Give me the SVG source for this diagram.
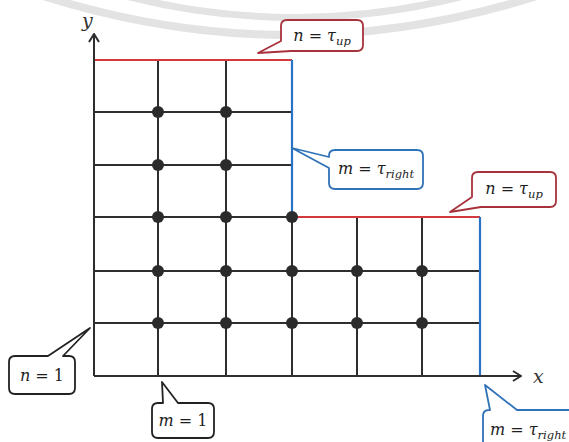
<svg xmlns="http://www.w3.org/2000/svg" width="569" height="442" viewBox="0 0 569 442">
<style>
.wm{fill:none;stroke:#e3e3e3;stroke-linecap:round}
.g{stroke:#2e2e2e;stroke-width:2;fill:none}
.red{stroke:#d23a3f;stroke-width:2.2;fill:none}
.blue{stroke:#2a73c4;stroke-width:2.2;fill:none}
.dot{fill:#2b2b2b}
.cr{fill:#fff;stroke:#a8323c;stroke-width:1.8;stroke-linejoin:round}
.cb{fill:#fff;stroke:#2f72b8;stroke-width:1.8;stroke-linejoin:round}
.ck{fill:#fff;stroke:#222;stroke-width:1.8;stroke-linejoin:round}
.t{font-family:"DejaVu Serif","Liberation Serif",serif;font-style:italic;font-size:16px;fill:#1e1e1e}
.u{font-style:normal}
.s{font-size:11.5px}
.ax{font-family:"DejaVu Serif","Liberation Serif",serif;font-style:italic;font-size:19px;fill:#333}
</style>
<defs>
<marker id="arr" viewBox="0 0 10 12" refX="9" refY="6" markerWidth="10" markerHeight="12" markerUnits="userSpaceOnUse" orient="auto">
<path d="M1,1 L9,6 L1,11" fill="none" stroke="#2e2e2e" stroke-width="2"/>
</marker>
</defs>
<rect width="569" height="442" fill="#fff"/>
<g id="watermark">
<path class="wm" d="M40,-5 Q290,75 540,-5" stroke-width="8"/>
<path class="wm" d="M130,-3 Q295,38 460,-3" stroke-width="7"/>
</g>
<g id="grid">
<path class="g" d="M94,112 H292 M94,165 H292 M94,217 H292 M94,271 H480 M94,323 H480"/>
<path class="g" d="M158,60 V376 M226,60 V376 M292,217 V376 M357,217 V376 M422,217 V376"/>
<path class="red" d="M94,60 H292 M292,217 H480"/>
<path class="blue" d="M292,60 V217 M480,217 V377"/>
</g>
<g id="connectors">
<path class="g" d="M94,376 V34" marker-end="url(#arr)"/>
<path class="g" d="M94,376 H521" marker-end="url(#arr)"/>
</g>
<g id="axis-labels">
<text class="ax" x="82" y="27">y</text>
<text class="ax" x="533" y="383">x</text>
</g>
<g id="dots">
<circle class="dot" cx="158" cy="112" r="6"/><circle class="dot" cx="226" cy="112" r="6"/>
<circle class="dot" cx="158" cy="165" r="6"/><circle class="dot" cx="226" cy="165" r="6"/>
<circle class="dot" cx="158" cy="217" r="6"/><circle class="dot" cx="226" cy="217" r="6"/><circle class="dot" cx="292" cy="217" r="6"/>
<circle class="dot" cx="158" cy="271" r="6"/><circle class="dot" cx="226" cy="271" r="6"/><circle class="dot" cx="292" cy="271" r="6"/><circle class="dot" cx="357" cy="271" r="6"/><circle class="dot" cx="422" cy="271" r="6"/>
<circle class="dot" cx="158" cy="323" r="6"/><circle class="dot" cx="226" cy="323" r="6"/><circle class="dot" cx="292" cy="323" r="6"/><circle class="dot" cx="357" cy="323" r="6"/><circle class="dot" cx="422" cy="323" r="6"/>
</g>
<g id="callout-n-tau-up-top">
<path class="cr" d="M287,20 H357 Q363,20 363,26 V45 Q363,51 357,51 H291 L258,53 L281,41 V26 Q281,20 287,20 Z"/>
<text class="t" x="322" y="41" text-anchor="middle">n <tspan class="u">=</tspan> τ<tspan class="s" dy="4">up</tspan></text>
</g>
<g id="callout-m-tau-right-top">
<path class="cb" d="M335,150 H417 Q423,150 423,156 V183 Q423,189 417,189 H335 Q329,189 329,183 V168 L292,148 L329,157 V156 Q329,150 335,150 Z"/>
<text class="t" x="376" y="174" text-anchor="middle">m <tspan class="u">=</tspan> τ<tspan class="s" dy="4">right</tspan></text>
</g>
<g id="callout-n-tau-up-right">
<path class="cr" d="M478,172 H550 Q556,172 556,178 V201 Q556,207 550,207 H481 L450,212 L472,197 V178 Q472,172 478,172 Z"/>
<text class="t" x="514" y="194" text-anchor="middle">n <tspan class="u">=</tspan> τ<tspan class="s" dy="4">up</tspan></text>
</g>
<g id="callout-n-1">
<path class="ck" d="M15,356 H48 L90,328 L63,356 H69 Q75,356 75,362 V388 Q75,394 69,394 H15 Q9,394 9,388 V362 Q9,356 15,356 Z"/>
<text class="t" x="42" y="381" text-anchor="middle">n <tspan class="u">= 1</tspan></text>
</g>
<g id="callout-m-1">
<path class="ck" d="M158,403 H163 L162,382 L178,403 H208 Q214,403 214,409 V432 Q214,438 208,438 H158 Q152,438 152,432 V409 Q152,403 158,403 Z"/>
<text class="t" x="183" y="426" text-anchor="middle">m <tspan class="u">= 1</tspan></text>
</g>
<g id="callout-m-tau-right-bottom">
<path class="cb" d="M483,470 V416 Q483,410 489,410 H490 L485,385 L517,410 H600 V470 Z"/>
<text class="t" x="490" y="435">m <tspan class="u">=</tspan> τ<tspan class="s" dy="4">right</tspan></text>
</g>
</svg>
